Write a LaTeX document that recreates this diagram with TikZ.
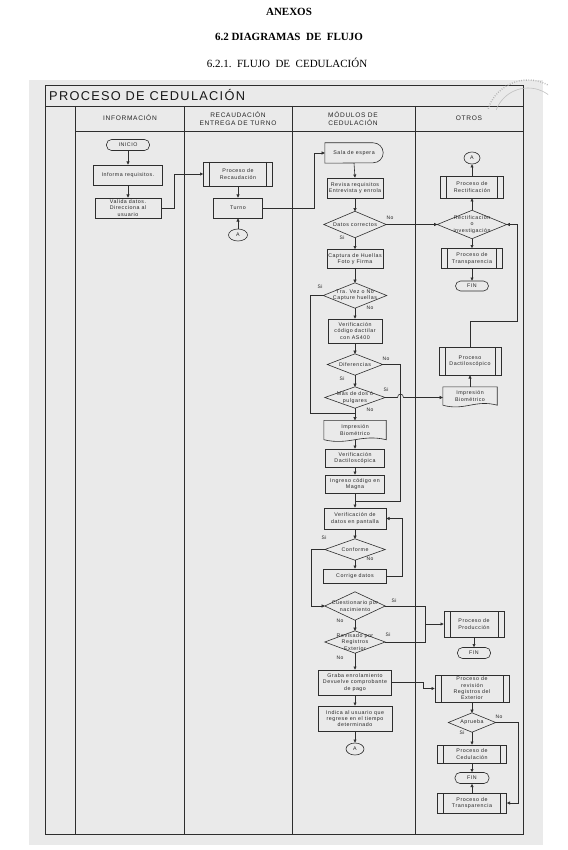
\documentclass[tikz,border=0pt]{standalone}
\usepackage{fontspec}
\setmainfont{Liberation Serif}
\newfontfamily\dsf[LetterSpace=10]{Liberation Sans}
\usetikzlibrary{arrows.meta,shapes.geometric,calc}
\definecolor{bg}{RGB}{234,234,234}
\pgfdeclarelayer{back}
\pgfdeclarelayer{mid}
\pgfsetlayers{back,mid,main}
\begin{document}
\begin{tikzpicture}[x=1pt,y=-1pt,
  ln/.style={draw=black!82,line width=0.6pt},
  arr/.style={ln,-{Triangle[length=3.2pt,width=3pt]}},
  txt/.style={font=\dsf\fontsize{5.3}{6.3}\selectfont,align=center,text=black!85,inner sep=0pt},
  sz/.style n args={2}{minimum width=#1,minimum height=#2},
  box/.style={txt,ln,rectangle,fill=bg},
  pp/.style={box,path picture={\draw[black!82,line width=0.5pt] ([xshift=6pt]path picture bounding box.north west) -- ([xshift=6pt]path picture bounding box.south west) ([xshift=-6pt]path picture bounding box.north east) -- ([xshift=-6pt]path picture bounding box.south east);}},
  term/.style={box,rounded corners=5pt},
  conn/.style={txt,ln,ellipse,fill=bg},
  bare/.style={txt,rectangle},
  lab/.style={font=\dsf\fontsize{5}{5}\selectfont,text=black!85,inner sep=0pt},
  hdr/.style={font=\dsf\fontsize{6.6}{7.6}\selectfont,align=center,text=black!85,inner sep=0pt},
]
\useasboundingbox (0,0) rectangle (567,850);
\begin{pgfonlayer}{back}
\fill[white] (0,0) rectangle (567,850);
\fill[bg] (29,80) rectangle (543,845);
\end{pgfonlayer}

% page headings
\node[font=\bfseries\fontsize{11}{13}\selectfont] (h1) at (289,12) {ANEXOS};
\node[font=\bfseries\fontsize{11}{13}\selectfont] (h2) at (289,37) {6.2 DIAGRAMAS\ \ DE\ \ FLUJO};
\node[font=\fontsize{11}{13}\selectfont] (h3) at (287,63) {6.2.1.\ \ FLUJO\ \ DE\ \ CEDULACIÓN};

% frame
\draw[ln] (45,85) rectangle (523,834);
\draw[ln] (45,106) -- (523,106);
\draw[ln] (75,131) -- (523,131);
\foreach \x in {75,184,292,415} \draw[ln] (\x,106) -- (\x,834);

% stamp
\begin{scope}
\clip (470,78) rectangle (548,110);
\draw[black!30,line width=1.4pt,dash pattern=on 0.8pt off 1.6pt] (528,122) circle[radius=42pt];
\draw[black!25,line width=0.6pt] (528,122) circle[radius=34pt];
\end{scope}

\node[font=\dsf\fontsize{12.8}{14}\selectfont,anchor=west,inner sep=0pt,text=black!90] (title) at (49,95.5) {PROCESO DE CEDULACIÓN};
\node[hdr] (c1) at (130,118) {INFORMACIÓN};
\node[hdr] (c2) at (238,118.5) {RECAUDACIÓN\\ENTREGA DE TURNO};
\node[hdr] (c3) at (353,118.5) {MÓDULOS DE\\CEDULACIÓN};
\node[hdr] (c4) at (469,118) {OTROS};

% INFORMACION
\node[term,sz={43}{11}] (inicio) at (128,145) {INICIO};
\node[box,sz={69}{20}] (informa) at (128,175) {Informa requisitos.};
\node[box,sz={66}{20}] (valida) at (128,208) {Valida datos.\\Direcciona al\\usuario};

% RECAUDACION
\node[pp,sz={69}{24}] (procrec) at (238,174) {Proceso de\\Recaudación};
\node[box,sz={49}{20}] (turno) at (238,208) {Turno};
\node[conn,sz={19}{12}] (ca1) at (238,235) {A};

% MODULOS
\node[bare,sz={58}{20}] (sala) at (354,153) {Sala de espera};
\node[box,sz={56}{20}] (revisa) at (355,188) {Revisa requisitos\\Entrevista y enrola};
\node[bare,sz={62}{26}] (datos) at (355,224.5) {Datos correctos};
\node[box,sz={56}{19}] (captura) at (355,259) {Captura de Huellas\\Foto y Firma};
\node[bare,sz={63}{25}] (travez) at (355,295.5) {Tra. Vez o No\\Capture huellas};
\node[box,sz={54}{24}] (verif) at (355,331) {Verificación\\código dactilar\\con AS400};
\node[bare,sz={55}{21}] (dif) at (355,364.5) {Diferencias};
\node[bare,sz={60}{21}] (mas) at (355,397.5) {Más de dos ó\\pulgares};
\node[bare,sz={62}{19}] (impr1) at (355,430) {Impresión\\Biométrico};
\node[box,sz={59}{18}] (vdac) at (355,458) {Verificación\\Dactiloscópica};
\node[box,sz={59}{18}] (ingreso) at (355,484) {Ingreso código en\\Magna};
\node[box,sz={62}{21}] (vpant) at (355,518.5) {Verificación de\\datos en pantalla};
\node[bare,sz={60}{21}] (conf) at (355,549.5) {Conforme};
\node[box,sz={63}{14}] (corrige) at (355,576) {Corrige datos};
\node[bare,sz={60}{28}] (cuest) at (355,606) {Cuestionario por\\nacimiento};
\node[bare,sz={60}{22}] (revis) at (355,642) {Revisado por\\Registros\\Exterior};
\node[box,sz={73}{25}] (graba) at (355,682.5) {Graba enrolamiento\\Devuelve comprobante\\de pago};
\node[box,sz={74}{25}] (indica) at (355,718.5) {Indica al usuario que\\regrese en el tiempo\\determinado};
\node[conn,sz={18}{12}] (ca2) at (355,749) {A};

% OTROS
\node[conn,sz={16}{12}] (ca3) at (472,158) {A};
\node[pp,sz={63}{22}] (procrect) at (472,187) {Proceso de\\Rectificación};
\node[bare,sz={69}{28}] (rectinv) at (472,224.5) {Rectificación\\o\\investigación};
\node[pp,sz={61}{20}] (proctrans1) at (472,258.5) {Proceso de\\Transparencia};
\node[term,sz={33}{10}] (fin1) at (472,286) {FIN};
\node[pp,sz={62}{28}] (dacti) at (470,361) {Proceso\\Dactiloscópico};
\node[bare,sz={54}{18}] (impr2) at (470,396) {Impresión\\Biométrico};
\node[pp,sz={60}{26}] (prod) at (474,624) {Proceso de\\Producción};
\node[term,sz={33}{11}] (fin2) at (474,653) {FIN};
\node[pp,sz={74}{27}] (prevext) at (472,688.5) {Proceso de\\revisión\\Registros del\\Exterior};
\node[bare,sz={47}{19}] (aprueba) at (472,722.5) {Aprueba};
\node[pp,sz={69}{18}] (proced) at (472,754) {Proceso de\\Cedulación};
\node[term,sz={34}{11}] (fin3) at (472,778) {FIN};
\node[pp,sz={69}{20}] (proctrans2) at (472,803) {Proceso de\\Transparencia};

% special outlines (drawn under the texts)
\begin{pgfonlayer}{mid}
\foreach \n in {datos,travez,dif,mas,conf,cuest,revis,rectinv,aprueba}
  \filldraw[ln,fill=bg] (\n.north) -- (\n.east) -- (\n.south) -- (\n.west) -- cycle;
\foreach \n in {impr1,impr2}
  \filldraw[ln,fill=bg] (\n.south west) -- (\n.north west) -- (\n.north east) -- (\n.south east)
    .. controls ($(\n.south east)!0.4!(\n.south west)+(0,-6)$) and ($(\n.south east)!0.6!(\n.south west)+(0,6)$) .. (\n.south west) -- cycle;
\filldraw[ln,fill=bg] (sala.north west) -- ([xshift=-10pt]sala.north east) arc[start angle=90,end angle=-90,radius=10pt] -- (sala.south west) -- cycle;
\end{pgfonlayer}

% junctions
\coordinate (j1) at (355,413);
\coordinate (j2) at (355,501);
\coordinate (j3) at (425,624);

% connectors
\draw[arr] (inicio.south) -- (informa.north);
\draw[arr] (informa.south) -- (valida.north);
\draw[arr] (valida.east) -- ++(13,0) |- (procrec.west);
\draw[arr] (procrec.south) -- (turno.north);
\draw[arr] (ca1.north) -- (turno.south);
\draw[arr] (turno.east) -- ++(51,0) |- (sala.west);
\draw[arr] (sala.south) -- (revisa.north);
\draw[arr] (revisa.south) -- (datos.north);
\draw[arr] (datos.south) -- (captura.north);
\draw[arr] (datos.east) -- (rectinv.west);
\draw[arr] (captura.south) -- (travez.north);
\draw[arr] (travez.south) -- (verif.north);
\draw[ln] (travez.west) -- ++(-13,0) |- (j1);
\draw[arr] (verif.south) -- (dif.north);
\draw[arr] (dif.south) -- (mas.north);
\draw[ln] (dif.east) -- ++(18,0) |- (j2);
\draw[arr] (mas.south) -- (impr1.north);
\draw[arr] (mas.east) -- (397.5,397.5) .. controls (397.5,393) and (403.5,393) .. (403.5,397.5) -- (impr2.west |- mas.east);
\draw[arr] (impr2.north) -- (dacti.south);
\draw[arr] (dacti.north) |- (517,321) |- (rectinv.east);
\draw[arr] (rectinv.north) -- (procrect.south);
\draw[arr] (procrect.north) -- (ca3.south);
\draw[arr] (rectinv.south) -- (proctrans1.north);
\draw[arr] (proctrans1.south) -- (fin1.north);
\draw[arr] (impr1.south) -- (vdac.north);
\draw[arr] (vdac.south) -- (ingreso.north);
\draw[arr] (ingreso.south) -- (vpant.north);
\draw[arr] (vpant.south) -- (conf.north);
\draw[arr] (conf.south) -- (corrige.north);
\draw[arr] (corrige.east) -- ++(15,0) |- (vpant.east);
\draw[arr] (conf.west) -- ++(-14,0) |- (cuest.west);
\draw[arr] (cuest.south) -- (revis.north);
\draw[ln] (cuest.east) -- ++(40,0) |- (revis.east);
\draw[arr] (j3) -- (prod.west);
\draw[arr] (prod.south) -- (fin2.north);
\draw[arr] (revis.south) -- (graba.north);
\draw[arr] (graba.east) -- ++(31,0) |- (prevext.west);
\draw[arr] (graba.south) -- (indica.north);
\draw[arr] (indica.south) -- (ca2.north);
\draw[arr] (prevext.south) -- (aprueba.north);
\draw[arr] (aprueba.south) -- (proced.north);
\draw[arr] (proced.south) -- (fin3.north);
\draw[arr] (proctrans2.north) -- (fin3.south);
\draw[arr] (aprueba.east) -- ++(23,0) |- (proctrans2.east);

% branch labels
\node[lab] (l1) at (390,218) {No};
\node[lab] (l2) at (342,238) {Si};
\node[lab] (l3) at (320,287) {Si};
\node[lab] (l4) at (370,308) {No};
\node[lab] (l5) at (386,359) {No};
\node[lab] (l6) at (342,379) {Si};
\node[lab] (l7) at (386,390) {Si};
\node[lab] (l8) at (370,410) {No};
\node[lab] (l9) at (324,538) {Si};
\node[lab] (l10) at (370,559) {No};
\node[lab] (l11) at (394,601) {Si};
\node[lab] (l12) at (340,621) {No};
\node[lab] (l13) at (388,635) {Si};
\node[lab] (l14) at (340,658) {No};
\node[lab] (l15) at (499,717) {No};
\node[lab] (l16) at (462,733) {Si};
\end{tikzpicture}
\end{document}
